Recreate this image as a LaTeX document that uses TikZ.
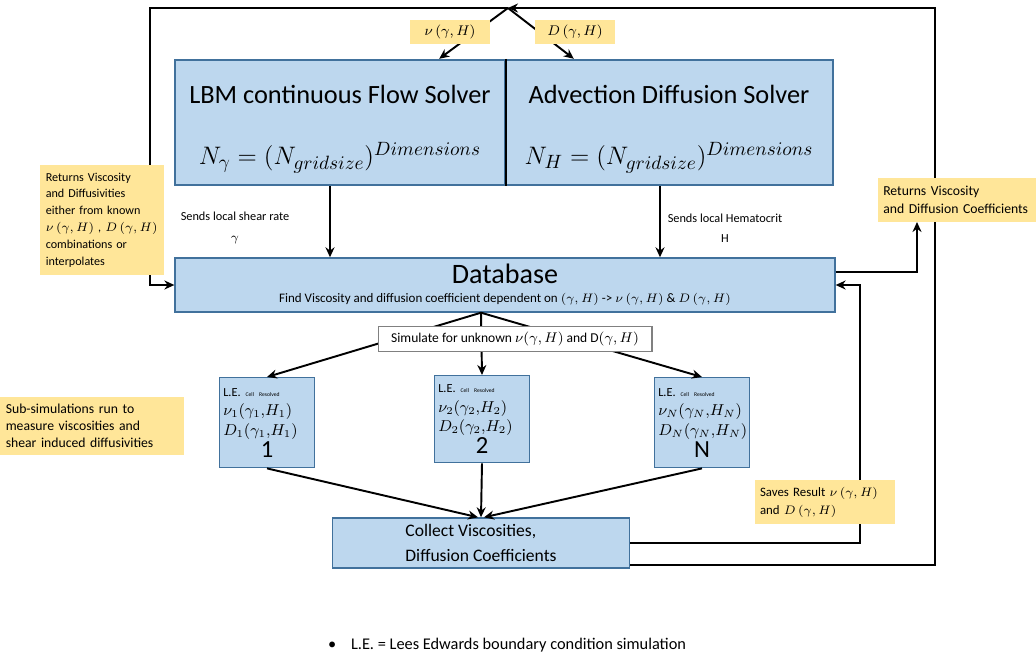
\documentclass[tikz,border=0pt]{standalone}
\usepackage{fontspec}
\setmainfont{Carlito}
\usetikzlibrary{arrows.meta, calc}

\definecolor{boxfill}{HTML}{BDD7EE}
\definecolor{boxline}{HTML}{41719C}
\definecolor{notefill}{HTML}{FFE699}

\tikzset{
    solver/.style={draw=boxline, fill=boxfill, line width=1.4pt, minimum height=2.5cm, align=center, font=\fontsize{15}{18}\selectfont},
    bluebox/.style={draw=boxline, fill=boxfill, line width=0.8pt, inner sep=2pt},
    lebox/.style={bluebox, anchor=north, minimum width=1.9cm, minimum height=1.8cm, text width=1.75cm, align=left, font=\fontsize{8.6}{11.2}\selectfont},
    note/.style={fill=notefill, align=left, inner sep=3pt, font=\fontsize{6.9}{9.6}\selectfont},
    conn/.style={black, line width=1.1pt, -{Stealth[width=1.8mm, length=2mm]}},
    small/.style={align=center, font=\fontsize{7}{11.5}\selectfont}
}

\begin{document}
\begin{tikzpicture}[x=0.02cm, y=-0.02cm]
    \useasboundingbox (0,0) rectangle (1036,656);

    % solvers
    \node [solver, minimum width=6.6cm] (flow) at (340,122.5) {\rule{0pt}{0.63cm}LBM continuous Flow Solver\\[0.58cm] $N_\gamma = (N_{gridsize})^{Dimensions}$};
    \node [solver, minimum width=6.56cm] (advect) at (669,122.5) {\rule{0pt}{0.63cm}Advection Diffusion Solver\\[0.58cm] $N_H = (N_{gridsize})^{Dimensions}$};
    \draw [black, line width=1.1pt] (flow.north east) -- (flow.south east);

    % database
    \node [bluebox, minimum width=13.2cm, minimum height=1.08cm, align=center] (db) at (505,285) {{\fontsize{16}{18}\selectfont Database}\\[-1pt] {\fontsize{7.4}{8}\selectfont Find Viscosity and diffusion coefficient dependent on $(\gamma, H)$ -> $\nu\,(\gamma, H)$ \& $D\,(\gamma, H)$}};

    % sub-simulations
    \node [lebox] (le1) at (267,377) {{\fontsize{7}{8}\selectfont L.E. {\fontsize{3.2}{4}\selectfont Cell Resolved}}\\ $\nu_1(\gamma_1{,}H_1)$\\ $D_1(\gamma_1{,}H_1)$\\ \makebox[1.75cm][c]{\fontsize{14}{14}\selectfont 1}};
    \node [lebox, minimum height=1.74cm] (le2) at (482,375) {{\fontsize{7}{8}\selectfont L.E. {\fontsize{3.2}{4}\selectfont Cell Resolved}}\\ $\nu_2(\gamma_2{,}H_2)$\\ $D_2(\gamma_2{,}H_2)$\\ \makebox[1.75cm][c]{\fontsize{14}{14}\selectfont 2}};
    \node [lebox] (leN) at (702,377) {{\fontsize{7}{8}\selectfont L.E. {\fontsize{3.2}{4}\selectfont Cell Resolved}}\\ $\nu_N(\gamma_N{,}H_N)$\\ $D_N(\gamma_N{,}H_N)$\\ \makebox[1.75cm][c]{\fontsize{14}{14}\selectfont N}};

    % collect
    \node [bluebox, minimum width=5.94cm, minimum height=1cm, align=left, font=\fontsize{10}{14}\selectfont] (collect) at (481,543) {Collect Viscosities,\\ Diffusion Coefficients};

    % loop
    \coordinate (apex) at (508,8);
    \coordinate (topleft) at (150,8);
    \coordinate (topright) at (935,8);
    \coordinate (savex) at (860,400);
    \coordinate (fan) at (db.south -| collect.north);
    \draw [conn] ($(collect.east)+(0,22)$) -| (topright) -- (apex);
    \draw [conn] (apex) -- (topleft) |- (db.west);
    \draw [conn] (apex) -- ($(flow.north east)+(-67,0)$);
    \draw [conn] (apex) -- ($(advect.north west)+(70,0)$);
    \draw [conn] (collect.east) -| (savex) |- (db.east);
    \draw [conn] ($(db.east)+(0,-13)$) -| (917,222);

    % solvers to database
    \draw [conn] ($(flow.south)+(-10,0)$) -- ($(flow.south |- db.north)+(-10,0)$);
    \draw [conn] ($(advect.south)+(-9,0)$) -- ($(advect.south |- db.north)+(-9,0)$);

    % fan out and back
    \draw [conn] (fan) -- (le1.north);
    \draw [conn] (fan) -- (le2.north);
    \draw [conn] (fan) -- (leN.north);
    \draw [conn] (le1.south) -- ($(collect.north)+(-3,0)$);
    \draw [conn] (le2.south) -- (collect.north);
    \draw [conn] (leN.south) -- ($(collect.north)+(3,0)$);

    \node [draw=gray, fill=white, line width=0.6pt, minimum width=5.48cm, minimum height=0.44cm, font=\fontsize{7.7}{9}\selectfont] (sim) at (515,339) {Simulate for unknown $\nu(\gamma, H)$ and D$(\gamma, H)$};

    % notes
    \node [note, minimum width=1.6cm, minimum height=0.5cm, align=center, font=\fontsize{8}{9}\selectfont] (nu) at (450,32) {$\nu\,(\gamma, H)$};
    \node [note, minimum width=1.6cm, minimum height=0.5cm, align=center, font=\fontsize{8}{9}\selectfont] (dlab) at (575,32) {$D\,(\gamma, H)$};
    \node [note, minimum width=2.5cm, minimum height=2.2cm, text width=2.25cm] (retleft) at (102,220) {Returns Viscosity\\ and Diffusivities\\ either from known\\ $\nu\,(\gamma, H)$ , $D\,(\gamma, H)$\\ combinations or\\ interpolates};
    \node [note, minimum width=3.16cm, minimum height=0.88cm, text width=2.95cm, font=\fontsize{7.8}{10.2}\selectfont] (retright) at (957,200) {Returns Viscosity\\ and Diffusion Coefficients};
    \node [note, minimum width=3.7cm, minimum height=1.16cm, text width=3.45cm, font=\fontsize{7.8}{9.8}\selectfont] (subsim) at (92,426) {Sub-simulations run to\\ measure viscosities and\\ shear induced diffusivities};
    \node [note, minimum width=2.8cm, minimum height=0.9cm, text width=2.6cm, font=\fontsize{7.3}{10.2}\selectfont] (saves) at (825,502) {Saves Result $\nu\,(\gamma, H)$\\ and $D\,(\gamma, H)$};

    % labels
    \node [small] (shear) at (235,228) {Sends local shear rate\\ $\gamma$};
    \node [small] (hema) at (725,228) {Sends local Hematocrit\\ H};
    \node [anchor=west, font=\fontsize{9.3}{11}\selectfont] (foot) at (322,645) {\textbullet\hspace{0.9em}L.E. = Lees Edwards boundary condition simulation};
\end{tikzpicture}
\end{document}
